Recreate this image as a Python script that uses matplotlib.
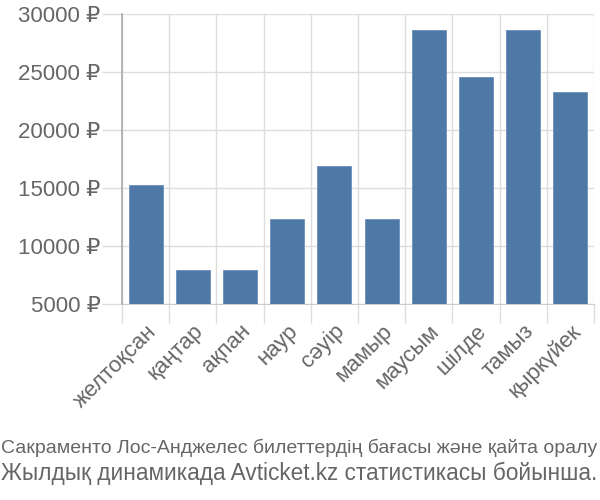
import matplotlib.pyplot as plt
import numpy as np

months = ['желтоқсан', 'қаңтар', 'ақпан', 'наур', 'сәуір', 'мамыр',
          'маусым', 'шілде', 'тамыз', 'қыркүйек']
prices = [15300, 7950, 7950, 12350, 16900, 12350, 28650, 24600, 28650, 23250]
yticks = [5000, 10000, 15000, 20000, 25000, 30000]
caption = ['Сакраменто Лос-Анджелес билеттердің бағасы және қайта оралу',
           'Жылдық динамикада Avticket.kz статистикасы бойынша.']

plt.rcParams['font.family'] = ['Liberation Sans', 'DejaVu Sans']
text_color = '#666666'
grid_color = '#dddddd'

fig = plt.figure(figsize=(6, 5), dpi=100)
ax = fig.add_axes([122 / 600, 1 - 304 / 500, 472 / 600, 290 / 500])

x = np.arange(len(months))
ax.bar(x, prices, width=0.72, color='#4e79a7', edgecolor='#6a8fbb',
       linewidth=0.6, zorder=3)

ax.set_xlim(-0.5, len(months) - 0.5)
ax.set_ylim(yticks[0], yticks[-1])

# y axis: gridlines that run out to the left as long ticks (lengths in pt)
ax.set_yticks(yticks)
ax.set_yticklabels(['%d ₽' % v for v in yticks])
ax.tick_params(axis='y', length=14.4, width=1, color=grid_color, pad=1,
               labelsize=16, labelcolor=text_color)
ax.grid(axis='y', color=grid_color, linewidth=1, zorder=0)

# x axis: gridlines between categories, labels at centers
ax.set_xticks(x)
ax.set_xticklabels(months, rotation=45, ha='right', rotation_mode='anchor')
ax.tick_params(axis='x', which='major', length=0, pad=12, labelsize=16,
               labelcolor=text_color)
ax.set_xticks(np.arange(len(months) + 1) - 0.5, minor=True)
ax.tick_params(axis='x', which='minor', length=13.7, width=1, color=grid_color)
ax.grid(axis='x', which='minor', color=grid_color, linewidth=1, zorder=0)

for side in ['top', 'right']:
    ax.spines[side].set_visible(False)
ax.spines['left'].set_color('#aaaaaa')
ax.spines['left'].set_linewidth(1.2)
ax.spines['bottom'].set_color('#cccccc')

fig.text(1 / 600, 1 - 448 / 500, caption[0], ha='left', va='center',
         fontsize=14, color=text_color)
fig.text(1 / 600, 1 - 473 / 500, caption[1], ha='left', va='center',
         fontsize=16.3, color=text_color)

fig.savefig('out.png', dpi=100)
